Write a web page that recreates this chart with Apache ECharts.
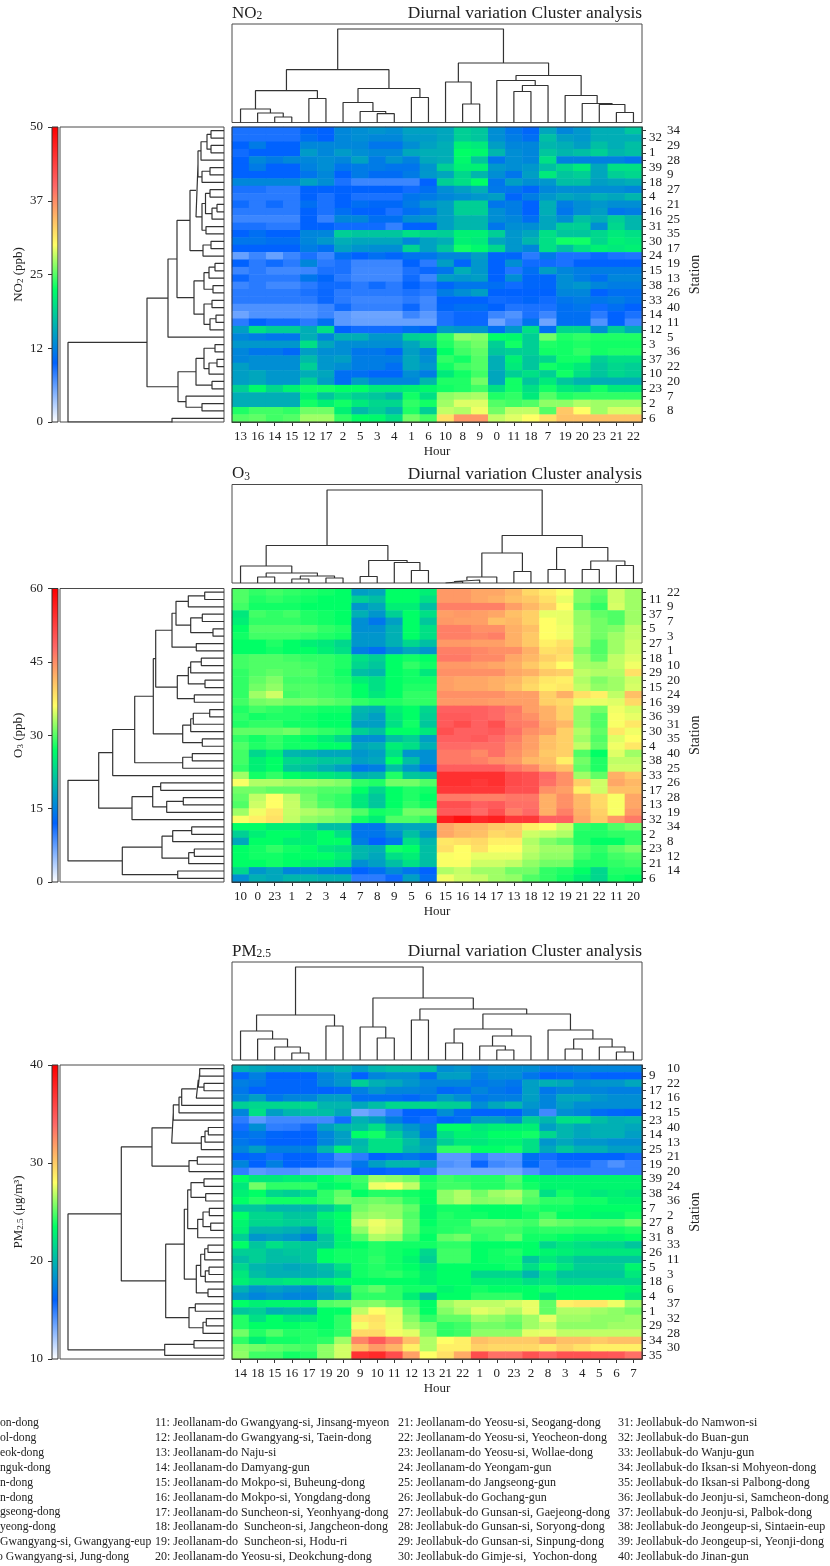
<!DOCTYPE html>
<html><head><meta charset="utf-8"><style>html,body{margin:0;padding:0;background:#fff}#c{width:830px;height:1566px}</style>
<script src="https://cdn.jsdelivr.net/npm/echarts@6/dist/echarts.min.js"></script></head>
<body><div id="c"></div><script>
const no2Hours=[13,16,14,15,12,17,2,5,3,4,1,6,10,8,9,0,11,18,7,19,20,23,21,22];
const o3Hours=[10,0,23,1,2,3,4,7,8,9,5,6,15,16,14,17,13,18,12,19,21,22,11,20];
const pmHours=[14,18,15,16,17,19,20,9,10,11,12,13,21,22,1,0,23,2,8,3,4,5,6,7];
const no2Stations=[34,32,29,1,28,39,9,18,27,4,21,16,25,31,35,30,17,24,19,15,13,38,26,33,40,14,11,12,5,3,36,37,22,10,20,23,7,2,8,6];
const o3Stations=[22,11,9,37,7,5,3,27,1,18,10,29,20,15,24,16,39,36,31,30,35,4,40,38,25,33,26,17,28,13,19,32,34,2,8,23,12,21,14,6];
const pmStations=[10,9,22,17,16,12,15,23,40,14,13,25,21,19,20,39,24,38,36,7,2,27,8,31,33,26,11,5,3,18,6,4,37,1,32,29,28,34,30,35];
const no2Values=[
[9,9,9,9,10.3,10,13,13.5,14,13.5,15,15,15.4,18.7,18,13.5,11.6,10.3,15.4,12.9,14.2,16,16,18],
[9,9,9,9,11,10,13,13.5,13,13,14.5,14.5,15.4,18.7,18,13.5,12.2,11,17.4,14.8,14.2,16,16,16],
[10,12,10,10,13,13,13,13,11.6,11.6,13.5,15,16,21.4,20.8,14.8,12.9,12.9,16.7,16,14.8,17.4,16,17.4],
[9.4,10,10,10,14.5,13,14.5,13.5,13,13,15.5,16,16,22.5,22,16.7,13.5,12.9,18,16.7,17.4,18.7,16.7,17.4],
[10,13,12,13,13,13.5,12.9,15,12,14,12.5,15.5,16,22,18,11.6,13.5,12.9,20,12.5,12.5,12.5,12.5,11.6],
[10,12,10,10,12.5,13.5,11.5,12,12,11.5,11.5,14,18.7,21.4,21.4,14.2,13.5,14.2,17.4,19.3,20.8,15.4,20,20],
[10,10,10,10,11.5,13,10,12,10.8,10.8,12,14.2,15.4,19.3,16.7,13.5,11.6,14.8,20.8,18,18.7,15.4,18.7,19.3],
[13,13,13,13,15,13.5,9,7.7,7.7,7.7,7.7,10,18.7,20,22.5,11.6,14.8,13.5,14.2,17.4,17.4,14.8,15.4,16],
[9,9,8.4,8.4,10,10,10,10,10,10,9.4,11,13.5,14.8,16,11.8,11.6,10.3,13,13.5,13.5,13.5,13.5,12.9],
[8.4,8.4,8.4,8.4,10,9,10,9,9,9,11.5,12,12.9,13.5,14.2,14.8,10.3,12.2,14.2,15.4,14.8,16,15.4,16.7],
[9.4,8.4,9.4,8.4,11,9,10,11,10.5,10.5,12,14,14.8,18.7,18.7,11.6,12.2,10,16,12.2,13.5,14.2,13.5,13.5],
[8.4,8.4,8.4,8.4,10,9,11,10,10,9,11,12,14.8,18.7,18.7,13.5,12.2,10,16,11.6,13.5,14.8,11.6,12.2],
[7.7,7.7,7.7,7.7,10,8,12.9,12.9,11,11,13.5,14,14.8,16.7,16.7,13.5,12.9,11,15.4,13.5,17.4,16,18.7,16.7],
[9,9,8.4,8.4,10,10,9.4,9.4,9.4,8,10,10,14.8,16.7,16.7,11.6,13.5,13.5,15.4,18.7,18.7,13.5,19.3,16.7],
[10,11,10,10,12.9,12.9,18.7,18,18,18,20,19,18.7,21.4,21.4,18.7,14.2,15.4,20,18,18,19.3,20.8,20],
[11.6,11.6,11,11,12.9,14.2,16,15.4,15.4,15.4,13,15,16,21.4,20.8,15.4,14.2,16.7,20,23,23,19.3,21.4,20.8],
[10,10,10,10,12.2,11,15,14,13.5,13.5,19,15,18,23,22,19.3,14.2,12.9,20,17.4,20,21.4,20.8,21.4],
[6,7.7,6,7.7,9,7.7,11,10,11,10.3,11.3,11.6,12.9,12.9,14.8,10.3,10.3,8.4,11.8,9,9,9.6,9,8.8],
[10,8.4,9.4,8.4,12.9,8.4,9,7.7,7.7,7.7,10,8.4,14.8,10.3,14.2,10,13.5,9.4,9.4,9,10,10,10,10],
[7.7,8.4,7.5,7.5,7.7,9,9,7.5,7.5,7.5,9,9.6,11.6,16,14.2,10,8.8,11,14.8,12.9,12.2,12.2,12.2,12.2],
[9.6,8.4,8.4,8.4,11.6,10.3,8.4,7.5,7.5,7.5,9.4,7.7,14.8,14.2,14.8,10,13.5,10.3,10.3,13.5,12.2,11,12.9,12.9],
[7.7,8.4,7.5,7.5,8.4,9.4,9.4,8.4,9.4,8.4,10,9,10.3,11.6,11.6,11,9.4,10.3,10.3,13.5,14.2,12.9,12.2,12.2],
[8.4,8.4,8.4,8.4,9,9.6,8.4,8.4,8.4,8.4,9,8.4,12.2,13.5,14.8,10,10,10,10,12.9,12.9,10,11,11],
[8.4,8.4,8.4,8.4,8.4,9.6,8.4,7.7,7.7,7.7,8.4,7.5,10,10,10,9.4,9.6,10.3,9.4,11.6,12.2,11.6,12.2,11.3],
[7,7,7,7,7,7.7,9.4,8,8,8,9.6,7.6,10.3,11,11,10,8.8,9,9,11,11.6,9.4,11,10],
[5.8,6.9,6.9,6.9,6.9,7.7,6.5,5.8,5.8,5.8,7.7,6.5,9,9.6,9.6,7.7,6.9,9,7.7,11,11,8.4,10,9],
[8.4,10,9.4,9.4,8.4,11,6.5,6,6,6,6,6,9,9.6,9.6,5.8,7.7,11.4,5.8,11,11,6.9,10,7.7],
[14.8,20,18.7,18.7,16,20,10,9.4,9.4,9.4,11,10,14.8,14.2,14.2,11,14.2,20,11,19.3,19.3,13.5,18.7,16],
[12.9,12.2,11.6,11.6,16,12.9,16,16,14.2,14.2,18.7,19.3,23.9,26.7,26.3,22.5,22,18.7,25.8,23.4,23.9,23.4,23.4,23.4],
[14.2,14.2,14.2,14.2,20,15.4,13.5,13.5,13.5,13.5,15.4,18,23.4,24.9,25.8,18.7,23,18.7,23.4,23,23.4,23,23,23],
[12.9,11.6,11.6,10.5,14.8,13.5,13.5,11.6,11.6,10.5,14.8,12.9,22.5,24.4,25.3,18,18.7,18.7,23,23,23.9,23,23.4,23.4],
[12.9,13.5,13.5,13.5,17,14.2,14.8,12.2,12.2,12.2,15.4,13.5,23.9,23,24.9,16,21.4,18,19.3,23,23,18.7,20,20],
[14.8,13.5,13.5,13.5,18.7,14.2,13.5,12.2,12.2,11,15.4,14.2,23,24.4,24.9,16,20.8,18,23,22,20.8,18,19.3,18.7],
[14.8,15.4,14.2,14.2,16,15.4,11,11,10.3,10.3,13.5,12.2,20.8,23,24.4,15.4,18.7,20,18.7,23,20,18,19.3,18.7],
[14.8,15.4,14.2,14.2,18.7,14.8,11,14.8,12.9,12.9,12.9,16.7,23.4,23.4,25.8,15.4,23,18,20.8,18,16.5,16,16,16],
[18.7,22,19.3,21.4,23,23,22.5,22.5,20.8,20.8,21.4,22,23,23.4,24.4,20,23,20,23,20.8,20,23,20.8,20.8],
[16,16,16,16,21.4,18,20,18.7,18,16.7,23,20,26.7,27.2,27.5,23.4,23.9,20.8,24.9,23.4,23.9,23.9,23.9,23.9],
[16,16,16,16,23,21.4,23,20.8,19.3,19.3,23.9,23,27.2,29,29,24.9,24.4,24.9,26.7,26.7,27.7,27.2,27.2,27.2],
[23.4,24.4,24.4,23.9,25.8,25.8,21.4,17,18.7,16.7,23.4,18.7,28.2,27.7,29.6,25.8,28.2,28.2,24.9,33.6,30,27.2,28.8,28.8],
[24.9,25.3,24.4,24.9,27.2,27.2,23.9,22.5,22,20,25.8,24.4,32,36.7,36.7,28.2,29.1,30,32,34,34,34,34,34]];
const o3Values=[
[29.8,28.7,29.3,28.7,28.1,27.6,27,17.8,18.6,27,27,25.5,44,44,42.9,42.9,41.6,39,37.5,35.8,31.5,30.4,34.3,32.6],
[29.8,28.1,28.7,28.1,27.6,27,27,22.5,20.9,27,27,24,44,44,42.9,42.2,41,40.3,38.4,35.2,31.5,29.8,34.3,32.6],
[29.3,27.6,27.6,27.6,27,27,27,17,18.6,25.5,25.5,20.9,46,46,46,46,43.5,41.6,39.7,36,30.4,28.7,34.6,32.6],
[24.8,29.3,28.7,29.3,28.1,27.6,27,19.4,17,22.5,27,24,43.5,44,43.5,42.9,41,39.7,35.2,35.2,32.1,30.4,29.8,32.6],
[25.5,28.7,28.7,28.7,28.1,27.6,27,16.3,13.9,17.8,27,21.7,44,43.5,43.5,41,41.6,39.7,36,35.2,32.1,31,29.8,32.6],
[27,29.8,29.8,29.8,29.8,28.7,28.1,16.3,16.3,19.4,27,24,46,46,44.7,44.7,42.2,41,36,35.5,32.6,31,31.5,33.8],
[27.6,29.3,29.3,29.3,28.7,28.1,27.6,17,17,19.4,27,24,46,46,45.4,46,42.2,40.3,36,35.5,32.6,31,32.6,33.8],
[27,27,28.1,27,25.5,24.8,23.2,17,17,19.4,23.2,20.9,44,44,43.5,43.5,42.2,40.3,37.2,38.4,32.6,29.8,32.6,34.3],
[27,27,27.6,27,27,25.5,24,14.7,13.2,16.3,18.6,17,46,46,45.4,44.7,44.7,42.2,38.4,39,31.5,29.8,32.6,34.3],
[29.3,29.8,29.8,29.3,28.7,28.7,28.1,24,22.5,27,27.6,27,46.5,46.5,45.2,45.2,42.9,41.6,39.7,38.4,32.6,30.4,33.8,34.9],
[29.3,29.8,29.8,29.8,29.3,28.7,28.1,23.2,21.7,27,28.7,27.6,44,44,43.5,42.9,42.2,40.3,38.4,36,32.9,32.6,33.8,35.5],
[28.7,29.8,30.4,29.8,29.8,28.7,27.6,20.9,20.1,27,27.6,24.8,44.7,44.7,44.7,44.7,42.9,42.2,40.3,39.7,33.8,33.2,33.2,38.4],
[28.7,30.4,31.5,29.3,29.3,28.7,28.1,25.5,24,27,27.6,27.6,43.5,42.9,42.9,42.2,41.6,39.7,37.8,37.2,33.2,31.5,32.6,34.3],
[28.7,31,32.1,29.8,29.8,29.3,28.7,27,24,27,28.1,28.1,43.5,42.9,42.9,42.2,41,39,37.2,37.8,33.8,32.1,32.6,34.6],
[28.7,32.6,34.3,29.3,29.8,29.3,28.7,27,24.8,27,28.7,28.7,44.7,44.7,44.7,44.7,43.5,43.5,39.7,42.2,38.4,37.2,33.8,41],
[29.3,31,31.5,31,31,30.4,29.8,28.7,28.1,28.1,28.7,28.7,44,44,44,43.5,43.5,43.5,39.7,39,35.2,35.2,34.9,39],
[28.1,29.3,28.7,28.1,28.1,27.6,27.6,20.1,19.4,25.5,27,23.2,48.7,48.7,48.7,47.8,46.5,43.5,42.2,39.7,32.1,31,35.5,34.6],
[28.7,27.6,28.1,28.1,27.6,27,27,19.4,17.8,24.8,27,22.5,49.4,49.4,48.7,47.7,46,44.7,42.2,39.7,32.1,29.8,35.8,35.2],
[28.1,28.7,28.7,27.6,27.6,27,27,17.8,17.8,24,27.6,21.7,49.4,51,48.7,50.6,46.5,46,42.9,41.6,32.1,29.8,35.8,37.8],
[30.4,30.4,30.4,31,29.3,28.7,28.1,22.5,20.9,27,27,24.8,50.6,48.7,48.7,49.4,47.2,44.7,43.5,39.7,33.2,30.4,37.8,35.5],
[28.7,27.6,28.7,27.6,27,25.5,23.2,16.3,16.3,20.9,22.5,17.8,48.7,48.7,49.4,47.8,46,43.5,41,39.7,32.6,29.8,34.9,36],
[29.8,28.1,28.7,27.6,27.6,27,27,18.6,19.4,25.5,24,19.4,47.7,47.7,47.2,47.2,45.2,43.5,41,39.7,33.8,30.4,35.5,37.8],
[29.3,23.2,25.5,20.1,19.4,18.6,18.6,17,17.8,24,17,16.3,46.5,46.5,45.2,47.2,44.7,42.9,40.3,39.7,29.8,27,34.9,32.6],
[29.3,25.5,27,23.2,22.5,21.7,21.7,17.8,18.6,27,20.9,16.3,46.5,46.5,46,44.7,44,41.6,41,37.2,31,28.1,33.8,33.8],
[28.7,25.5,27,21.7,20.9,19.4,17.8,13.9,14.7,20.9,17,13.9,48.9,48.9,48.9,48.9,46.7,45.4,42.2,41,30.4,28.1,34.3,34.3],
[32.6,27.6,28.7,27,25.5,24.8,24,19.4,20.1,28.1,21.7,20.9,54.4,54.4,54.4,54.4,51.3,50.6,47.7,44.7,32.6,30.4,42.2,40.3],
[35.8,33.2,33.2,32.6,32.6,32.1,31.5,28.7,28.1,31,31,29.8,54.4,54.4,53.4,54.4,51.3,50.6,47.2,44.7,39.7,34.3,42.9,41.6],
[31,31,30.4,30.4,30.4,29.8,29.8,27,23.2,27,28.1,27.6,53.4,53.4,53.4,53.4,50.6,50.6,44.7,43.5,37.2,34.3,41,41],
[30.4,33.8,36,33.8,31,29.3,28.7,24.8,21.7,27,28.1,27,46.5,46.5,46,46,46.7,46.7,42.2,44.7,41.6,39,35.8,42.9],
[29.8,34.3,36,34,31.5,29.8,28.7,24.8,21.7,27,28.7,27.6,50.6,50.6,48.7,49.4,47.2,47.2,42.2,44.7,41.6,39,35.8,42.9],
[32.6,35.5,37.8,34,33.2,32.6,31.5,29.8,27.6,28.1,31,31,49.4,49.4,47.7,50.6,46,47.8,42.2,46,42.2,39.7,35.8,44],
[35.8,37.2,38.4,33.8,32.1,31.5,31,27.6,25.5,29.8,29.8,28.7,56.2,58,55.3,56.2,53.4,53.4,48.7,48.7,42.9,40.3,44,46.5],
[27,27,25.5,25.5,24,20.9,20.9,13.9,13.9,17.8,18.6,18.6,42.9,41.6,41.6,40.3,39.7,37.2,36,34.3,28.7,28.1,29.8,31],
[22.5,25.5,27,27,25.5,27,24,13.9,13.9,16.3,20.9,17,42.9,41.6,41,39,39.7,34.3,33.8,33.2,28.1,28.1,28.7,28.7],
[18.6,27,27,25.5,25.5,27,27,14.7,12,13.9,24,20.1,37.8,38.4,39,37.2,37.2,33.2,31.5,30.4,28.1,27,27,28.7],
[27,27.6,28.7,27.6,27,24.8,24,20.1,19.4,27.6,27,20.9,38.4,36,38.4,36,36,33.8,32.6,32.6,29.8,28.7,30.4,31.5],
[27,27.6,27.6,27,27,27,25.5,20.1,18.6,24,25.5,20.9,35.8,36,35.2,35.2,35.2,33.2,32.1,32.1,29.3,28.1,29.3,29.8],
[27,27,27.6,27,25.5,25.5,24,16.3,17.8,20.9,24,20.9,35.8,35.8,34.3,34.3,33.8,32.1,31,31,28.1,28.1,28.7,29.3],
[23.2,17,18.6,15.5,15.8,14.7,13.9,12,13.2,15.8,13.9,12,33.2,34,32.6,32.6,31,31,28.7,28.1,27,23.2,28.1,28.1],
[16.3,19.4,18.6,20.1,20.1,19.4,19.4,10,10,11.5,17.8,13.2,35.5,34.3,34,32.6,32.1,29.8,28.7,27.6,25.5,23.2,27.6,27]];
const pmValues=[
[19.7,19.3,18.9,18.9,19.3,19.3,19.7,18.9,20,20.4,20.4,20.4,18.1,18.5,17.7,18.1,18.1,18.1,17.4,17.4,17.7,17.7,17.7,17.7],
[16.2,17.4,16,16,16,17.7,18.5,16,17.7,18.1,18.1,16.6,18.9,18.9,17.4,18.1,18.1,17,16,16.2,16.6,16,16,16],
[17.4,17,16.2,16.2,16.2,17.7,18.5,21.2,19.7,19.3,18.5,17.7,17.7,17.7,17,17.4,17,18.9,19.7,19.3,18.1,18.5,18.5,19.3],
[17,16,16.2,16.2,16.2,16,16.3,17.4,18.5,17.7,17.7,17.4,16.3,16.6,17.7,17,16.6,18.9,17,17.7,17.7,17.7,17.4,17.4],
[17.7,18.9,17,17.7,17.7,18.9,18.9,16.6,16.6,16.6,16.3,17,18.9,18.1,17,17.4,17.4,18.9,17.7,19.3,19.3,18.5,18.1,18.1],
[21.2,21.6,21.6,21.6,21.6,20,20,19.3,20.4,21.6,21.6,21.6,21.2,21.2,18.1,19.3,20,18.5,17.7,18.9,18.1,18.1,18.1,18.1],
[17.7,22,18.9,20,20.4,20.4,19.3,13.4,13.9,15,16,16,18.1,16.5,16,16,16,17.7,14.5,18.1,17.7,16.5,16.2,16],
[15,13.9,14.5,14.5,14.5,14.5,15.6,19.7,18.9,17.4,16.2,15.6,16.2,16.6,18.9,18.9,18.1,21.2,20,22,22,20.4,19.7,20],
[15.6,18.1,14.9,15,15.6,18.9,20,20.4,22,19.7,18.5,17.4,23.5,23.5,22.4,22.8,22.8,22.8,18.9,20,19.3,19.7,19.7,19.3],
[16.6,17,16.2,16,16,17.7,18.9,23.5,23.8,21.2,19.3,17,22,23,22.8,23.5,23.5,23.8,21.6,20,19.3,19.7,19.7,18.9],
[17,16.5,16,16,16,17.7,18.9,20,22,22,20.4,18.9,21.2,22.4,22.4,23,23,22,18.5,19.3,18.5,18.5,18.1,18.1],
[17.7,18.9,17.4,17.4,17.4,20,22.8,20.4,22,22,20,19.3,24.3,24.3,23.5,23.5,23.8,22,19.3,20.8,19.7,19.7,18.9,18.9],
[16,16.3,15.6,16,16,15.6,14.5,15,16,16.5,17,16.2,13.9,13.9,14.9,14.1,14.1,16.6,15.6,16,16,16,16,15.7],
[17.7,16,17.4,16,16,15.6,15,17,18.9,20,20,18.9,14.2,13.9,15.8,14.5,14.2,16.3,15,15.6,15.6,14.9,14.2,14.9],
[14.9,13.9,14.2,14.2,13.5,13.5,13.5,15.8,16,15.8,15.8,15,13.5,13.5,13.4,13.4,13.4,14.2,15,14.9,14.9,14.9,14.9,14.9],
[23.5,22.4,22.4,22.8,22.8,23.5,24.1,24.6,26.3,26,25.5,23.8,24.6,24.3,24.1,24.1,24.9,23.5,23.1,23.1,23.1,23.1,23.1,23.1],
[22.4,25.5,24.3,24.3,24.3,23.1,23.5,24.3,27.7,28,26.9,24.1,24.6,24.6,24.1,24.1,24.6,23.8,23.1,23.1,23.1,23.1,23.1,23.1],
[22.8,23.5,21.6,21.2,22,24.3,25.2,23.5,24.1,24.1,23.8,23.5,26,26.6,25.5,26.3,26.6,25.2,22,23.8,23.1,22.4,22.8,22.4],
[23.5,24.1,23.8,23.8,23.8,24.3,25.5,25.2,25.5,25.2,24.3,23.5,26,26.6,25.8,26,26.3,24.9,24.3,24.3,23.8,23.8,23.1,23.1],
[20.8,20.8,20,20,20,20.8,22.4,25.5,26,26,25.2,23.1,23.8,23.8,23.5,23.5,23.5,24.1,23.8,23.8,23.5,23.5,23.5,23.5],
[23.5,21.6,21.6,20.8,20.8,22.8,23.5,26,26.3,26,24.9,23.1,24.1,23.8,23.8,23.5,23.5,23.8,24.6,23.5,23.5,23.1,23.1,23.8],
[23.1,21.6,21.6,21.2,21.2,22.4,23.5,26.9,27.7,27.2,25.2,23.5,24.1,24.1,25.2,25.2,24.9,24.6,25.5,25.2,24.9,24.9,24.9,25.5],
[22.8,20,20,19.7,18.9,22,23.5,26,27.5,27,25.2,23.8,24.1,24.3,24.6,24.6,24.6,24.1,24.3,24.3,24.1,24.1,23.8,24.1],
[21.2,18.5,18.9,18.5,17.4,20.8,23.1,24.9,26.6,26.3,24.6,23.5,25.2,25.5,24.3,24.6,25.2,23.8,23.8,23.5,23.1,23.1,23.1,23.5],
[23.5,20.8,22,21.2,20.8,20.8,23.1,23.5,24.1,23.8,23.8,23.8,24.3,24.3,23.5,23.5,23.5,23.5,21.6,22.4,22,21.6,21.6,20.8],
[21.2,21.2,20.4,20.8,20.8,23.5,23.8,23.8,24.1,23.8,23.5,21.6,24.6,24.6,23.5,23.8,24.1,23.5,23.1,22.8,22.4,22.4,22.4,22.4],
[20.4,21.2,20.4,20.4,20.8,23.5,23.8,23.8,24.3,23.8,23.1,21.2,24.6,24.6,23.5,23.8,23.8,20.8,22.4,21.6,20.8,20.8,20.8,20.8],
[21.6,20,19.7,19.3,19.7,20.4,22,23.8,24.1,23.8,23.5,22.4,23.5,23.5,23.5,23.5,23.8,22,23.5,22.4,21.2,21.2,21.2,23.1],
[22.4,20.4,19.7,19.7,19.7,20,21.2,23.8,24.1,24.3,23.8,22.8,23.5,23.5,21.6,21.6,21.6,20,22,20.8,20.8,20.8,20.8,22.4],
[22.8,22,22,22.4,22.4,22.8,23.5,23.5,23.5,23.5,23.5,22.8,23.5,23.5,22.8,22.8,22.8,22,22.4,21.6,21.6,21.6,21.6,21.6],
[19.7,18.5,18.9,18.5,18.1,19.3,21.2,24.6,25.2,24.3,23.8,23.8,23.1,23.5,23.8,23.5,23.5,23.5,23.8,23.5,23.5,23.5,23.5,23.1],
[18.5,17.7,18.1,17.7,17.7,18.9,20,24.3,24.3,24.3,22.8,20.4,23.5,23.5,24.3,24.3,24.3,23.5,22.4,23.5,23.5,23.5,23.5,22.4],
[23.5,22.8,23.1,23.1,22.8,24.9,25.2,25.6,25.8,25.2,24.6,23.5,26.3,26.9,26.9,26.9,27.2,27.6,25.2,28.6,28.9,28.9,27.7,26.3],
[20.8,21.2,19.7,20,19.7,23.5,23.5,26.9,28,27.5,25.2,23.5,25.8,26.6,27.5,27.2,26.6,27.6,25.2,26.6,26.6,26.3,26,25.5],
[24.1,22,23.5,22.4,22.4,23.5,24.3,28.9,29.2,27.6,25.8,24.3,25.2,25.2,26.3,26,25.5,26.3,27.6,26.3,26.3,26,26,26.3],
[24.1,23.5,23.5,23.5,23.8,23.5,24.3,27.8,28.9,27.7,26.3,25.5,24.3,24.6,25.5,25.5,25.2,26.3,26.9,26,26,26,26.3,26.3],
[25.5,24.1,24.9,24.1,24.1,23.8,24.3,29.5,29.5,27.8,27.5,25.8,24.3,24.6,26,26,26,27.5,27.6,26.9,26.9,26.9,26.9,26.9],
[24.3,22.8,23.8,23.8,24.1,24.3,26.3,32.8,34.7,32.9,30.5,26.6,28,28.6,30.5,30.1,30.1,30.1,31.3,30.5,30.5,30.1,30.5,30.5],
[25.8,25.5,25.2,24.9,24.6,26,27.2,30.5,32,31,28.6,26.6,28.6,28.6,29.8,29.5,29.5,29.5,28.9,29.8,29.2,28.6,28.6,28.6],
[26,24.6,24.6,23.8,24.1,26,27.2,37,37.5,35.5,31.7,28,29.2,31.3,35.5,33.6,33.6,35.2,34.2,35.2,35.2,35,34.8,33.6]];
// Dendrograms: [height, childA, childB]; 0 is a leaf.
const no2TopTree=[93.5,
 [52.8,[31.8,[13.5,0,[9.5,0,[5.5,0,0]]],[24,0,0]],[34,[20,0,[11,0,[8.8,0,0]]],[25,0,0]]],
 [59.5,[40.5,0,[18.5,0,0]],[47,[42,0,[37,[31,0,0],0]],[27,0,[19,0,[18,0,[10,0,0]]]]]]];
const o3TopTree=[93,
 [37.5,[17,0,[10,[6,0,0],[7,[4,0,0],[5,0,0]]]],[22.5,[6.5,0,0],[20.5,0,[12.5,0,0]]]],
 [47.5,[30,[6,[3,[1.5,0,0],0],0],[11.5,0,0]],[35.5,[13.5,0,0],[22,[13.5,0,0],[17.5,0,0]]]]];
const pmTopTree=[93,
 [45,[29,0,[21,0,[13,0,[7,0,0]]]],[34,0,0]],
 [62,[33,0,[22,0,0]],[51,[40,0,0],[46,[31,[17,0,0],[24,[14,0,[10,0,0]],0]],[30,0,[21,[11,0,0],[13,0,[8,0,0]]]]]]]];
const no2LeftTree=[156,
 [77,
  [56,[47,
    [34,[28,[26,[23,[17,[13,0,0],[13,0,0]],0],[22,[14,0,0],0]],
         [22,[18.5,[14,0,0],[12,[7,0,0],0]],[18,0,0]]],
        [21,[13,0,0],0]],
    [30,[20,[15,[9,0,0],0],[11,0,0]],[20,[12,0,0],[14,[8,0,0],0]]]],0],
  [46,[28,[20,[9,0,0],[15,[7,0,0],0]],[12,0,0]],[38,0,[22,0,0]]]],
 [52,0,0]];
const o3LeftTree=[156,
 [125.3,
  [111.3,
   [89.3,
    [70.7,
     [68.3,
      [52,[48,[35.7,[19.3,0,0],0],[33.3,[21.7,0,0],[11,0,0]]],[27.7,0,0]],
      [46.7,[35.7,[33.3,[22.7,0,0],0],[19,0,0]],[29.7,0,0]]],
     [41.3,[33.3,[30.7,[14.3,0,0],0],0],[21.7,0,0]]],
    [41.3,[31.7,0,0],0]],
   0],
  [92,[71.3,[63.3,0,0],[57.3,[40.7,0,0],0]],0]],
 [101.7,
  [62,[51.3,[32.3,0,0],0],[35.3,[29.7,0,0],0]],
  [46.3,0,0]]];
const pmLeftTree=[156,
 [102.7,
  [72,
   [52.3,[50.7,[45,[42.3,[27.7,[25.7,[24.3,0,0],[20,0,0]],0],0],0],0],[22.7,[19,[15.7,0,0],0],0]],
   [35,[26.7,0,0],0]],
  [58.3,
   [39.7,
    [36.3,[33,[20,0,0],[18.3,0,0]],[26.3,[21,[14.7,0,0],[13.3,0,0]],0]],
    [27.7,[23.3,[19.3,[16,0,0],0],[18.7,[15,0,0],0]],[16,0,0]]],
   [35,[28.7,0,0],[21,[17.7,0,0],0]]]],
 [59.3,[30,0,0],0]];
const no2TickLabels=['0','12','25','37','50'];
const gradientStops=[[0,'#ffffff'],[0.2,'#0062ff'],[0.45,'#00ff66'],[0.6,'#ffff66'],[0.8,'#ff6666'],[1,'#ff0000']];
const stationNames=[
['on-dong','ol-dong','eok-dong','nguk-dong','n-dong','n-dong','gseong-dong','yeong-dong','Gwangyang-si, Gwangyang-eup','o Gwangyang-si, Jung-dong'],
['11: Jeollanam-do Gwangyang-si, Jinsang-myeon','12: Jeollanam-do Gwangyang-si, Taein-dong','13: Jeollanam-do Naju-si','14: Jeollanam-do Damyang-gun','15: Jeollanam-do Mokpo-si, Buheung-dong','16: Jeollanam-do Mokpo-si, Yongdang-dong','17: Jeollanam-do Suncheon-si, Yeonhyang-dong','18: Jeollanam-do  Suncheon-si, Jangcheon-dong','19: Jeollanam-do  Suncheon-si, Hodu-ri','20: Jeollanam-do Yeosu-si, Deokchung-dong'],
['21: Jeollanam-do Yeosu-si, Seogang-dong','22: Jeollanam-do Yeosu-si, Yeocheon-dong','23: Jeollanam-do Yeosu-si, Wollae-dong','24: Jeollanam-do Yeongam-gun','25: Jeollanam-do Jangseong-gun','26: Jeollabuk-do Gochang-gun','27: Jeollabuk-do Gunsan-si, Gaejeong-dong','28: Jeollabuk-do Gunsan-si, Soryong-dong','29: Jeollabuk-do Gunsan-si, Sinpung-dong','30: Jeollabuk-do Gimje-si,  Yochon-dong'],
['31: Jeollabuk-do Namwon-si','32: Jeollabuk-do Buan-gun','33: Jeollabuk-do Wanju-gun','34: Jeollabuk-do Iksan-si Mohyeon-dong','35: Jeollabuk-do Iksan-si Palbong-dong','36: Jeollabuk-do Jeonju-si, Samcheon-dong','37: Jeollabuk-do Jeonju-si, Palbok-dong','38: Jeollabuk-do Jeongeup-si, Sintaein-eup','39: Jeollabuk-do Jeongeup-si, Yeonji-dong','40: Jeollabuk-do Jinan-gun']];

const FONT='"Liberation Serif",serif', INK='#222', EDGE='#4a4a4a';
function mix(a,b,t){const h=s=>[1,3,5].map(i=>parseInt(s.substr(i,2),16));const A=h(a),B=h(b);return 'rgb('+A.map((v,i)=>Math.round(v+(B[i]-v)*t)).join(',')+')';}
function paletteAt(p){for(let i=1;i<gradientStops.length;i++){const[a,ca]=gradientStops[i-1],[b,cb]=gradientStops[i];if(p<=b+1e-9)return mix(ca,cb,(p-a)/(b-a));}return '#ff0000';}
const palette=[];for(let i=0;i<=40;i++)palette.push(paletteAt(i/40));
function treeSegments(node,state,segs){
  if(node===0){const pos=state.n+0.5;state.n++;return{pos:pos,h:0};}
  const a=treeSegments(node[1],state,segs),b=treeSegments(node[2],state,segs),h=node[0];
  segs.push([a.pos,a.h],[a.pos,h],[b.pos,h],[b.pos,b.h],['-','-']);
  return{pos:(a.pos+b.pos)/2,h:h};
}
const panels=[
 {name:'NO',sub:'2',unit:' (ppb)',hours:no2Hours,stations:no2Stations,vals:no2Values,top:no2TopTree,left:no2LeftTree,min:0,max:50,iv:12.5,tickFmt:v=>no2TickLabels[Math.round(v/12.5)],boxTop:24,boxBot:122.5,hTop:127,hBot:422},
 {name:'O',sub:'3',unit:' (ppb)',hours:o3Hours,stations:o3Stations,vals:o3Values,top:o3TopTree,left:o3LeftTree,min:0,max:60,iv:15,tickFmt:v=>String(v),boxTop:484.5,boxBot:583,hTop:588.5,hBot:882},
 {name:'PM',sub:'2.5',unit:' (\u03bcg/m\u00b3)',hours:pmHours,stations:pmStations,vals:pmValues,top:pmTopTree,left:pmLeftTree,min:10,max:40,iv:10,tickFmt:v=>String(v),boxTop:962,boxBot:1060,hTop:1065,hBot:1359}];
const HX=232,HW=410,LX=60,LW=164,CX=52,CW=6,H=830;
const grid=[],xAxis=[],yAxis=[],series=[],visualMap=[],title=[],graphic=[];
const rich={a:{fontFamily:FONT,fontSize:17,fontWeight:'normal',color:INK},b:{fontFamily:FONT,fontSize:11.5,fontWeight:'normal',color:INK,verticalAlign:'bottom',padding:[5,0,0,0]}};
const richAxis={a:{fontFamily:FONT,fontSize:13,color:INK},b:{fontFamily:FONT,fontSize:9,color:INK,verticalAlign:'bottom',padding:[4,0,0,0]}};
panels.forEach(p=>{
  const hh=p.hBot-p.hTop, bh=p.boxBot-p.boxTop;
  // heat map
  let g=grid.length;
  grid.push({left:HX,top:p.hTop,width:HW,height:hh,show:true,z:5,borderColor:'#333',borderWidth:1,backgroundColor:'transparent'});
  const xi=xAxis.length,yi=yAxis.length;
  xAxis.push({gridIndex:g,type:'category',data:p.hours.map(String),position:'bottom',axisLine:{show:true,lineStyle:{color:'#333'}},axisTick:{show:true,alignWithLabel:true,length:4,lineStyle:{color:'#333'}},axisLabel:{interval:0,margin:8,fontFamily:FONT,fontSize:13,color:INK},splitLine:{show:false},name:'Hour',nameLocation:'middle',nameGap:23,nameTextStyle:{fontFamily:FONT,fontSize:13,color:INK}});
  yAxis.push({gridIndex:g,type:'category',inverse:true,position:'right',data:p.stations.map(String),axisLine:{show:true,lineStyle:{color:'#333'}},axisTick:{show:true,alignWithLabel:true,interval:0,length:4,lineStyle:{color:'#333'}},axisLabel:{interval:(i)=>i%2===1,align:'left',margin:7,fontFamily:FONT,fontSize:13,color:INK},splitLine:{show:false},name:'Station',nameLocation:'middle',nameGap:46,nameRotate:90,nameTextStyle:{fontFamily:FONT,fontSize:14,color:INK}});
  yAxis.push({gridIndex:g,type:'category',inverse:true,position:'right',data:p.stations.map(String),axisLine:{show:false},axisTick:{show:false},axisLabel:{interval:(i)=>i%2===0,align:'left',margin:25,fontFamily:FONT,fontSize:13,color:INK},splitLine:{show:false}});
  const heat=[];p.vals.forEach((row,r)=>row.forEach((v,c)=>heat.push([c,r,v])));
  visualMap.push({type:'continuous',show:false,min:p.min,max:p.max,dimension:2,seriesIndex:series.length,inRange:{color:palette}});
  series.push({type:'heatmap',xAxisIndex:xi,yAxisIndex:yi,data:heat,progressive:0,animation:false,itemStyle:{borderWidth:0},emphasis:{disabled:true}});
  // top dendrogram
  g=grid.length;grid.push({left:HX,top:p.boxTop,width:HW,height:bh,show:true,borderColor:EDGE,borderWidth:1,backgroundColor:'transparent'});
  let segs=[];treeSegments(p.top,{n:0},segs);
  xAxis.push({gridIndex:g,type:'value',min:0,max:24,show:false});
  yAxis.push({gridIndex:g,type:'value',min:0,max:bh,show:false});
  series.push({type:'line',xAxisIndex:xAxis.length-1,yAxisIndex:yAxis.length-1,data:segs,showSymbol:false,symbol:'none',connectNulls:false,animation:false,lineStyle:{color:'#333',width:1.2},emphasis:{disabled:true}});
  // left dendrogram
  g=grid.length;grid.push({left:LX,top:p.hTop,width:LW,height:hh,show:true,borderColor:EDGE,borderWidth:1,backgroundColor:'transparent'});
  segs=[];treeSegments(p.left,{n:0},segs);
  xAxis.push({gridIndex:g,type:'value',min:0,max:LW,inverse:true,show:false});
  yAxis.push({gridIndex:g,type:'value',min:0,max:40,inverse:true,show:false});
  series.push({type:'line',xAxisIndex:xAxis.length-1,yAxisIndex:yAxis.length-1,data:segs.map(s=>[s[1],s[0]]),showSymbol:false,symbol:'none',connectNulls:false,animation:false,lineStyle:{color:'#333',width:1.2},emphasis:{disabled:true}});
  // colour bar
  g=grid.length;grid.push({left:CX,top:p.hTop,width:CW,height:hh,show:true,z:5,borderColor:'#333',borderWidth:1,backgroundColor:'transparent'});
  xAxis.push({gridIndex:g,type:'category',data:['c'],show:false});
  yAxis.push({gridIndex:g,type:'value',min:p.min,max:p.max,interval:p.iv,position:'left',splitLine:{show:false},axisLine:{show:false},axisTick:{show:true,length:4,lineStyle:{color:'#333'}},axisLabel:{margin:9,fontFamily:FONT,fontSize:13,color:INK,formatter:p.tickFmt},
    name:'{a|'+p.name+'}{b|'+p.sub+'}{a|'+p.unit+'}',nameLocation:'middle',nameGap:27,nameRotate:90,nameTextStyle:{rich:richAxis,color:INK}});
  const barStops=gradientStops.map(s=>({offset:1-s[0],color:s[1]})).reverse();
  series.push({type:'bar',xAxisIndex:xAxis.length-1,yAxisIndex:yAxis.length-1,data:[p.max],barWidth:'100%',animation:false,silent:true,itemStyle:{color:new echarts.graphic.LinearGradient(0,0,0,1,barStops)}});
  // titles
  title.push({text:'{a|'+p.name+'}{b|'+p.sub+'}',left:HX,top:p.boxTop-19,padding:0,textStyle:{rich:rich}});
  title.push({text:'Diurnal variation Cluster analysis',right:H-(HX+HW),top:p.boxTop-19,padding:0,textStyle:{fontFamily:FONT,fontSize:17.4,fontWeight:'normal',color:INK}});
});
const colX=[0,155,398,618];
stationNames.forEach((col,i)=>col.forEach((t,j)=>{
  graphic.push({type:'text',x:(i===0&&j===9)?-3:colX[i],y:1423+14.9*j,style:{text:t,font:(i===0?'11.7px ':'12px ')+FONT,fill:INK,textVerticalAlign:'middle'}});
}));
const chart=echarts.init(document.getElementById('c'),null,{renderer:'canvas'});
chart.setOption({animation:false,backgroundColor:'#fff',title,grid,xAxis,yAxis,visualMap,series,graphic,tooltip:{show:false}});
</script></body></html>
